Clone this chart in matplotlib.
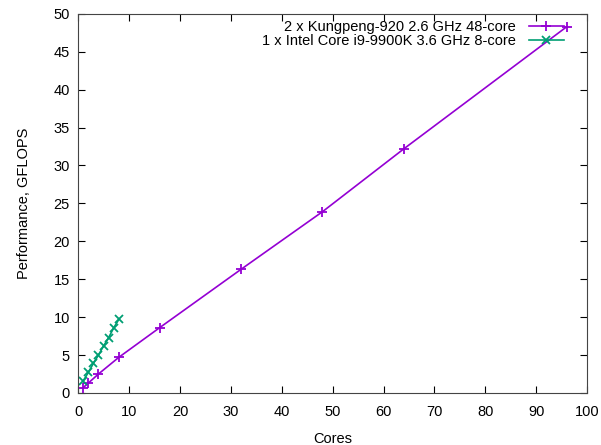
import matplotlib
matplotlib.use("Agg")
import matplotlib.pyplot as plt

kp_cores = [1, 2, 4, 8, 16, 32, 48, 64, 96]
kp_gflops = [0.7, 1.3, 2.5, 4.7, 8.6, 16.3, 23.9, 32.2, 48.3]
intel_cores = [1, 2, 3, 4, 5, 6, 7, 8]
intel_gflops = [1.6, 2.7, 3.9, 5.0, 6.2, 7.3, 8.6, 9.7]

plt.rcParams['font.family'] = ['Liberation Sans', 'DejaVu Sans']
fig = plt.figure(figsize=(6.01, 4.45), dpi=100)
ax = fig.add_axes([0.13, 0.117, 0.847, 0.852])

ax.plot(kp_cores, kp_gflops, color="#9400d3", marker="+", markersize=7, mew=1.3, lw=1.2,
        label="2 x Kungpeng-920 2.6 GHz 48-core")
ax.plot(intel_cores, intel_gflops, color="#009e73", marker="x", markersize=6, mew=1.3, lw=1.2,
        label="1 x Intel Core i9-9900K 3.6 GHz 8-core")

ax.set_xlim(0, 100)
ax.set_ylim(0, 50)
ax.set_xticks(range(0, 101, 10))
ax.set_yticks(range(0, 51, 5))
ax.tick_params(direction="in", top=True, right=True, labelsize=10.5, length=5)
ax.tick_params(axis="x", pad=9)
ax.tick_params(axis="y", pad=6)
ax.set_xlabel("Cores", fontsize=10.5, labelpad=9)
ax.set_ylabel("Performance, GFLOPS", fontsize=10.5, labelpad=16)
for s in ax.spines.values():
    s.set_color("#444444")

ax.legend(loc="upper right", markerfirst=False, frameon=False, fontsize=10.5,
          handlelength=2.4, handletextpad=0.9, borderaxespad=0.1, borderpad=0.3,
          labelspacing=0.05, bbox_to_anchor=(0.965, 1.0))

fig.savefig("out.png", dpi=100)
